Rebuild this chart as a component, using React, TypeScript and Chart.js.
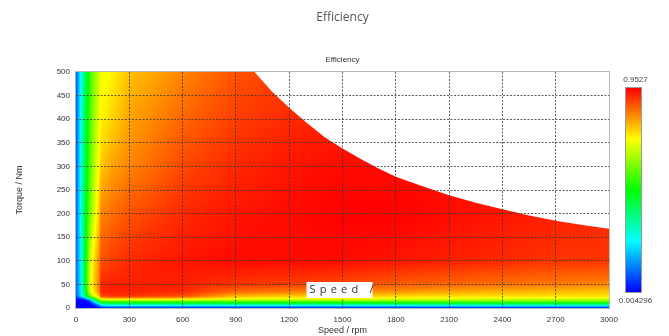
import React, { useEffect, useRef } from 'react';
import { Chart, registerables } from 'chart.js';

Chart.register(...registerables);

// ---- data ----
const speeds = [0, 25, 50, 75, 100, 130, 140, 200, 300, 600, 900, 1200, 1500, 1800, 2100, 2400, 2700, 3000];
const torques = [0, 2, 5, 9, 13, 17, 21, 25, 35, 50, 100, 200, 300, 400, 500];
// efficiency[torqueIndex][speedIndex]
const efficiency = [
  [0.004, 0.004, 0.004, 0.004, 0.004, 0.023, 0.033, 0.042, 0.042, 0.042, 0.042, 0.042, 0.042, 0.042, 0.042, 0.042, 0.042, 0.042],
  [0.004, 0.004, 0.004, 0.004, 0.004, 0.033, 0.080, 0.099, 0.099, 0.099, 0.099, 0.099, 0.099, 0.099, 0.099, 0.099, 0.099, 0.099],
  [0.004, 0.004, 0.004, 0.004, 0.023, 0.099, 0.194, 0.241, 0.241, 0.241, 0.241, 0.241, 0.241, 0.251, 0.260, 0.270, 0.270, 0.270],
  [0.004, 0.004, 0.004, 0.004, 0.080, 0.241, 0.336, 0.384, 0.384, 0.393, 0.403, 0.403, 0.403, 0.403, 0.403, 0.403, 0.403, 0.403],
  [0.004, 0.004, 0.004, 0.033, 0.194, 0.431, 0.498, 0.526, 0.526, 0.526, 0.526, 0.526, 0.535, 0.545, 0.554, 0.554, 0.554, 0.554],
  [0.004, 0.004, 0.023, 0.099, 0.336, 0.573, 0.649, 0.668, 0.668, 0.668, 0.649, 0.649, 0.649, 0.649, 0.640, 0.640, 0.630, 0.630],
  [0.023, 0.080, 0.147, 0.384, 0.526, 0.687, 0.782, 0.810, 0.810, 0.791, 0.735, 0.725, 0.725, 0.716, 0.716, 0.706, 0.706, 0.706],
  [0.080, 0.194, 0.336, 0.573, 0.687, 0.763, 0.886, 0.905, 0.905, 0.877, 0.782, 0.763, 0.763, 0.754, 0.744, 0.744, 0.744, 0.744],
  [0.099, 0.213, 0.403, 0.649, 0.744, 0.820, 0.915, 0.924, 0.924, 0.915, 0.858, 0.839, 0.829, 0.820, 0.801, 0.791, 0.782, 0.772],
  [0.099, 0.213, 0.431, 0.668, 0.763, 0.829, 0.915, 0.924, 0.924, 0.924, 0.905, 0.896, 0.886, 0.867, 0.858, 0.848, 0.839, 0.829],
  [0.099, 0.222, 0.431, 0.649, 0.744, 0.820, 0.877, 0.896, 0.915, 0.934, 0.943, 0.943, 0.943, 0.934, 0.924, 0.915, 0.905, 0.905],
  [0.090, 0.241, 0.422, 0.573, 0.668, 0.763, 0.829, 0.848, 0.877, 0.915, 0.934, 0.943, 0.953, 0.953, 0.943, 0.934, 0.924, 0.915],
  [0.080, 0.241, 0.412, 0.545, 0.640, 0.725, 0.763, 0.801, 0.829, 0.886, 0.915, 0.934, 0.943, 0.943, 0.934, 0.924, 0.915, 0.905],
  [0.080, 0.241, 0.403, 0.526, 0.621, 0.697, 0.725, 0.754, 0.801, 0.858, 0.896, 0.915, 0.924, 0.924, 0.915, 0.905, 0.896, 0.886],
  [0.080, 0.241, 0.384, 0.507, 0.602, 0.668, 0.697, 0.725, 0.772, 0.829, 0.877, 0.896, 0.905, 0.905, 0.896, 0.886, 0.877, 0.867],
];
const envelopeSpeed = [0, 1005, 1100, 1200, 1300, 1400, 1500, 1600, 1700, 1800, 1950, 2100, 2250, 2400, 2550, 2700, 2850, 3000];
const envelopeTorque = [500, 500, 460, 424, 392, 362, 338, 316, 296, 278, 258, 239, 223, 209, 196, 185, 176, 168];
const xTicks = [0, 300, 600, 900, 1200, 1500, 1800, 2100, 2400, 2700, 3000];
const yTicks = [0, 50, 100, 150, 200, 250, 300, 350, 400, 450, 500];
const colorRange = [0.004296, 0.9527];
const colorLabels = ['0.9527', '0.004296'];
const overlayLabel = 'Speed /';

// ---- helpers ----
const STOPS = [
  [0, 0, 255],
  [0, 255, 255],
  [0, 255, 0],
  [255, 255, 0],
  [255, 0, 0],
];
function colormap(t: number): number[] {
  const c = Math.max(0, Math.min(1, t)) * 4;
  const k = Math.min(3, Math.floor(c));
  const f = c - k;
  return STOPS[k].map((v, i) => v + (STOPS[k + 1][i] - v) * f);
}
function locate(arr: number[], v: number): [number, number] {
  let i = 0;
  while (i < arr.length - 2 && v > arr[i + 1]) i++;
  let f = (v - arr[i]) / (arr[i + 1] - arr[i]);
  f = Math.max(0, Math.min(1, f));
  return [i, f];
}

const heatmapPlugin = {
  id: 'heatmap',
  beforeDatasetsDraw(chart: any) {
    const { ctx, chartArea: a, scales } = chart;
    const xs = scales.x;
    const ys = scales.y;
    const w = Math.round(a.right - a.left);
    const h = Math.round(a.bottom - a.top);
    ctx.save();
    ctx.strokeStyle = '#b8b8b8';
    ctx.lineWidth = 1;
    ctx.strokeRect(Math.round(a.left) - 0.5, Math.round(a.top) - 0.5, w + 1, h + 1);
    ctx.restore();

    const off = document.createElement('canvas');
    off.width = w;
    off.height = h;
    const octx = off.getContext('2d')!;
    const img = octx.createImageData(w, h);
    const ci: number[] = [], cf: number[] = [];
    for (let px = 0; px < w; px++) {
      const [i, f] = locate(speeds, xs.getValueForPixel(a.left + px + 0.5));
      ci.push(i); cf.push(f);
    }
    const ri: number[] = [], rf: number[] = [];
    for (let py = 0; py < h; py++) {
      const [j, f] = locate(torques, ys.getValueForPixel(a.top + py + 0.5));
      ri.push(j); rf.push(f);
    }
    const span = colorRange[1] - colorRange[0];
    for (let py = 0; py < h; py++) {
      const j = ri[py], fy = rf[py];
      const r0 = efficiency[j], r1 = efficiency[j + 1];
      for (let px = 0; px < w; px++) {
        const i = ci[px], fx = cf[px];
        const a0 = r0[i] + (r0[i + 1] - r0[i]) * fx;
        const a1 = r1[i] + (r1[i + 1] - r1[i]) * fx;
        const e = a0 + (a1 - a0) * fy;
        const c = colormap((e - colorRange[0]) / span);
        const o = (py * w + px) * 4;
        img.data[o] = c[0];
        img.data[o + 1] = c[1];
        img.data[o + 2] = c[2];
        img.data[o + 3] = 255;
      }
    }
    octx.putImageData(img, 0, 0);

    ctx.save();
    ctx.beginPath();
    ctx.moveTo(xs.getPixelForValue(envelopeSpeed[0]), ys.getPixelForValue(0));
    for (let k = 0; k < envelopeSpeed.length; k++) {
      ctx.lineTo(xs.getPixelForValue(envelopeSpeed[k]), ys.getPixelForValue(envelopeTorque[k]));
    }
    ctx.lineTo(xs.getPixelForValue(envelopeSpeed[envelopeSpeed.length - 1]), ys.getPixelForValue(0));
    ctx.closePath();
    ctx.clip();
    ctx.drawImage(off, Math.round(a.left), Math.round(a.top));
    ctx.restore();
  },
  afterDraw(chart: any) {
    const { ctx, chartArea: a } = chart;
    const x0 = a.right + 17;
    const bw = 15;
    const top = a.top + 16;
    const bottom = a.bottom - 16;
    const g = ctx.createLinearGradient(0, bottom, 0, top);
    for (let k = 0; k <= 20; k++) {
      const c = colormap(k / 20);
      g.addColorStop(k / 20, `rgb(${c[0]},${c[1]},${c[2]})`);
    }
    ctx.save();
    ctx.fillStyle = g;
    ctx.fillRect(x0, top, bw, bottom - top);
    ctx.strokeStyle = '#9a9a9a';
    ctx.lineWidth = 1;
    ctx.strokeRect(x0 - 0.5, top - 0.5, bw + 1, bottom - top + 1);
    ctx.fillStyle = '#444';
    ctx.font = '8px "Liberation Sans", Arial, sans-serif';
    ctx.textAlign = 'center';
    ctx.textBaseline = 'middle';
    ctx.fillText(colorLabels[0], x0 + bw / 2 + 2, top - 8);
    ctx.fillText(colorLabels[1], x0 + bw / 2 + 2, bottom + 9);

    const cx = (a.left + a.right) / 2;
    const by = a.bottom - 26;
    ctx.fillStyle = '#ffffff';
    ctx.fillRect(cx - 36, by, 66, 16);
    ctx.fillStyle = '#333';
    ctx.font = '11px "Open Sans", "Liberation Sans", sans-serif';
    ctx.textAlign = 'left';
    ctx.textBaseline = 'middle';
    let tx = cx - 33;
    for (const ch of overlayLabel.split('')) {
      ctx.fillText(ch, tx, by + 8);
      tx += ctx.measureText(ch).width + 4.2;
    }
    ctx.restore();
  },
};

export default function App() {
  const ref = useRef<HTMLCanvasElement | null>(null);
  useEffect(() => {
    document.body.style.margin = '0';
    if (!ref.current) return;
    Chart.defaults.font.family = '"Liberation Sans", Arial, sans-serif';
    const gridColor = (c: any) =>
      c.index === 0 || c.index === 10 ? 'rgba(0,0,0,0)' : 'rgba(55,55,55,0.8)';
    const chart = new Chart(ref.current, {
      type: 'scatter',
      data: {
        datasets: [
          {
            label: 'Max torque',
            data: envelopeSpeed.map((s, k) => ({ x: s, y: envelopeTorque[k] })),
            showLine: true,
            borderColor: 'rgba(0,0,0,0)',
            borderWidth: 0,
            pointRadius: 0,
          },
        ],
      },
      options: {
        responsive: false,
        animation: false,
        layout: { padding: { left: 0, right: 60, top: 0, bottom: 0 } },
        plugins: {
          legend: { display: false },
          tooltip: { enabled: false },
          title: {
            display: true,
            text: 'Efficiency',
            fullSize: false,
            color: '#555',
            font: { size: 12, family: '"Open Sans", sans-serif', weight: 'normal' },
            padding: { top: 10, bottom: 0 },
          },
          subtitle: {
            display: true,
            text: 'Efficiency',
            fullSize: false,
            color: '#333',
            font: { size: 8, weight: 'normal' },
            padding: { top: 30.8, bottom: 7.2 },
          },
        },
        scales: {
          x: {
            type: 'linear',
            min: 0,
            max: 3000,
            afterBuildTicks: (s: any) => {
              s.ticks = xTicks.map((v) => ({ value: v }));
            },
            afterFit: (s: any) => {
              s.height = 28;
            },
            border: { display: false, dash: [2, 1.5] },
            grid: { color: gridColor, drawTicks: false, lineWidth: 1, z: 1 },
            ticks: {
              color: '#333',
              font: { size: 8 },
              padding: 7,
              maxRotation: 0,
              autoSkip: false,
              callback: (v: any) => String(v),
            },
            title: {
              display: true,
              text: 'Speed / rpm',
              color: '#333',
              font: { size: 9 },
              padding: { top: 0, bottom: 0 },
            },
          },
          y: {
            type: 'linear',
            min: 0,
            max: 500,
            afterBuildTicks: (s: any) => {
              s.ticks = yTicks.map((v) => ({ value: v }));
            },
            afterFit: (s: any) => {
              s.width = 76;
            },
            border: { display: false, dash: [2, 1.5] },
            grid: { color: gridColor, drawTicks: false, lineWidth: 1, z: 1 },
            ticks: {
              color: '#333',
              font: { size: 8 },
              padding: 6,
              autoSkip: false,
              callback: (v: any) => String(v),
            },
            title: {
              display: true,
              text: 'Torque / Nm',
              color: '#333',
              font: { size: 9 },
              padding: { top: 14.6, bottom: 0 },
            },
          },
        },
      } as any,
      plugins: [heatmapPlugin],
    });
    return () => chart.destroy();
  }, []);
  return <canvas ref={ref} width={669} height={336} style={{ display: 'block' }} />;
}
